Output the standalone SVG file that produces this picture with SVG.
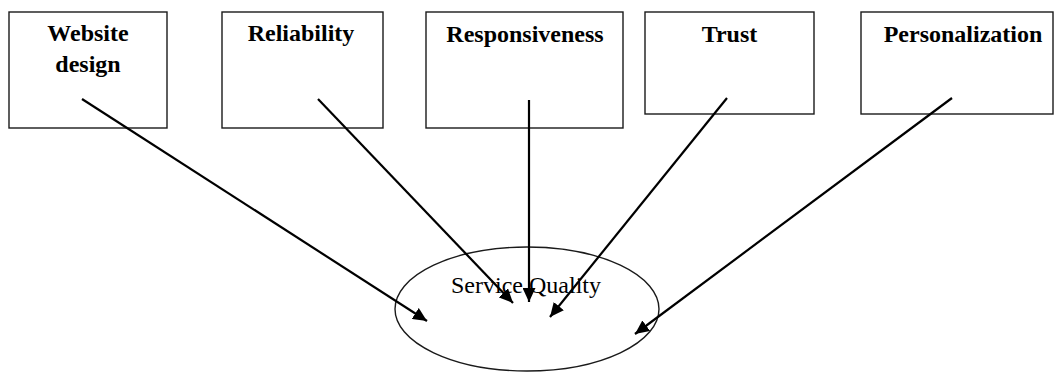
<svg xmlns="http://www.w3.org/2000/svg" width="1054" height="372" viewBox="0 0 1054 372">
  <style>
    .box { fill: #ffffff; stroke: #1a1a1a; stroke-width: 1.4; }
    .label { font-family: "Liberation Serif", "Times New Roman", serif; font-size: 24px; font-weight: bold; fill: #000000; text-anchor: middle; }
    .center-label { font-family: "Liberation Serif", "Times New Roman", serif; font-size: 24px; fill: #000000; text-anchor: middle; }
    .link { stroke: #000000; stroke-width: 2.2; fill: none; marker-end: url(#arrow); }
    .oval { fill: none; stroke: #1a1a1a; stroke-width: 1.4; }
  </style>
  <defs>
    <!-- solid triangular arrowhead, tip at the end of each connector -->
    <marker id="arrow" markerUnits="userSpaceOnUse" markerWidth="15" markerHeight="13" refX="14" refY="6.5" orient="auto">
      <path d="M0,0 L14,6.5 L0,13 z" fill="#000000"/>
    </marker>
  </defs>
  <rect width="1054" height="372" fill="#ffffff"/>

  <g id="service-quality">
    <ellipse class="oval" cx="527" cy="309" rx="132" ry="62"/>
    <text class="center-label" x="526" y="293">Service Quality</text>
  </g>

  <g id="website-design">
    <rect class="box" x="9" y="12" width="158" height="116"/>
    <text class="label" x="88" y="41">Website</text>
    <text class="label" x="88" y="72">design</text>
  </g>

  <g id="reliability">
    <rect class="box" x="222" y="12" width="161" height="116"/>
    <text class="label" x="301" y="41">Reliability</text>
  </g>

  <g id="responsiveness">
    <rect class="box" x="426" y="12" width="197" height="116"/>
    <text class="label" x="525" y="42">Responsiveness</text>
  </g>

  <g id="trust">
    <rect class="box" x="645" y="12" width="169" height="102"/>
    <text class="label" x="729.5" y="42">Trust</text>
  </g>

  <g id="personalization">
    <rect class="box" x="861" y="12" width="192" height="102"/>
    <text class="label" x="963" y="42">Personalization</text>
  </g>

  <g id="connectors">
    <line class="link" x1="82" y1="99" x2="427" y2="321"/>
    <line class="link" x1="318" y1="99" x2="513" y2="303"/>
    <line class="link" x1="529" y1="100" x2="529" y2="302"/>
    <line class="link" x1="727" y1="98" x2="550" y2="317"/>
    <line class="link" x1="952" y1="98" x2="635" y2="334"/>
  </g>
</svg>
